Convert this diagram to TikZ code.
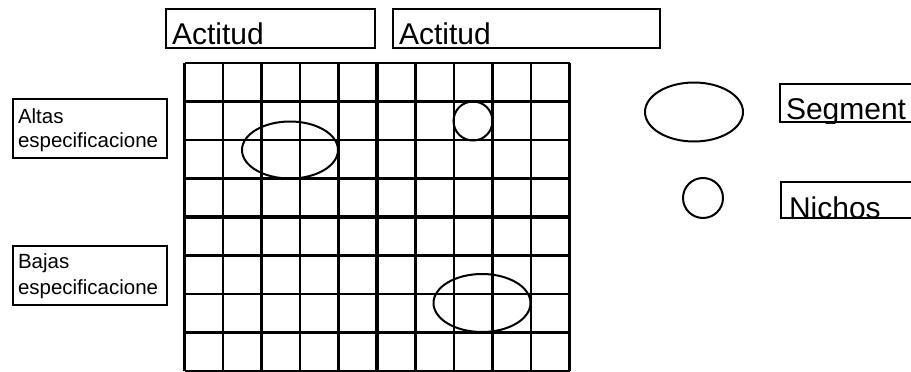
\documentclass[tikz,border=0pt]{standalone}
\usepackage{fontspec}
\setmainfont{Liberation Sans}
\usetikzlibrary{shapes.geometric}

\newcommand{\bigtxt}{\fontsize{30}{34}\selectfont}
\newcommand{\smalltxt}{\fontsize{20.5}{24}\selectfont}

\begin{document}
\begin{tikzpicture}[
  x=1pt, y=-1pt,
  line width=2pt,
  box/.style={draw, rectangle, inner sep=0pt, anchor=north west},
  gridline/.style={line width=2.3pt},
  axisline/.style={line width=4.5pt},
  market/.style={draw, ellipse, inner sep=0pt},
  niche/.style={draw, circle, inner sep=0pt},
  bigword/.style={font=\bigtxt, inner sep=0pt, anchor=base west},
  smallword/.style={font=\smalltxt, inner sep=0pt, anchor=base west}
]
  \useasboundingbox (0,0) rectangle (911,372);

  % Column headers.
  \node[box, minimum width=209pt, minimum height=39pt] (act1) at (165,8) {};
  \node[bigword] (act1txt) at ([xshift=6pt,yshift=4pt]act1.south west) {Actitud};
  \node[box, minimum width=267pt, minimum height=39pt] (act2) at (392,8) {};
  \node[bigword] (act2txt) at ([xshift=6pt,yshift=4pt]act2.south west) {Actitud};

  % Row headers.
  \node[box, minimum width=154pt, minimum height=59pt] (altas) at (12,98) {};
  \node[smallword] (altas1) at ([xshift=5pt,yshift=-25pt]altas.north west) {Altas};
  \node[smallword] (altas2) at ([xshift=5pt,yshift=-49pt]altas.north west) {especificacione};
  \node[box, minimum width=154pt, minimum height=59pt] (bajas) at (12,245) {};
  \node[smallword] (bajas1) at ([xshift=5pt,yshift=-23pt]bajas.north west) {Bajas};
  \node[smallword] (bajas2) at ([xshift=5pt,yshift=-49pt]bajas.north west) {especificacione};

  % The grid, 10 by 8, split in four quadrants.
  \foreach \i in {0,...,10}
    \draw[gridline] ({184.5+38.5*\i},63) -- ({184.5+38.5*\i},371);
  \foreach \j in {0,...,8}
    \draw[gridline] (184.5,{63+38.5*\j}) -- (569.5,{63+38.5*\j});
  \draw[axisline] (377,63) -- (377,371);
  \draw[axisline] (184.5,217) -- (569.5,217);

  % Segments and niches on the grid.
  \node[market, minimum width=96pt, minimum height=57pt] (seg1) at (290,150) {};
  \node[niche, minimum size=39pt] (nicho1) at (473,121) {};
  \node[market, minimum width=97pt, minimum height=58pt] (seg2) at (482,303) {};

  % Legend.
  \node[market, minimum width=98pt, minimum height=59pt] (legseg) at (694,112) {};
  \node[niche, minimum size=40pt] (legnicho) at (703,198) {};
  \node[box, minimum width=180pt, minimum height=38pt] (segbox) at (779,83) {};
  \begin{scope}
    \clip (segbox.north west) rectangle (segbox.south east);
    \node[bigword] (segtxt) at ([xshift=6pt,yshift=4pt]segbox.south west) {Segment};
  \end{scope}
  \node[box, minimum width=180pt, minimum height=36pt] (nichbox) at (780,181) {};
  \begin{scope}
    \clip (nichbox.north west) rectangle (nichbox.south east);
    \node[bigword] (nichtxt) at ([xshift=8pt,yshift=1pt]nichbox.south west) {Nichos};
  \end{scope}
\end{tikzpicture}
\end{document}
